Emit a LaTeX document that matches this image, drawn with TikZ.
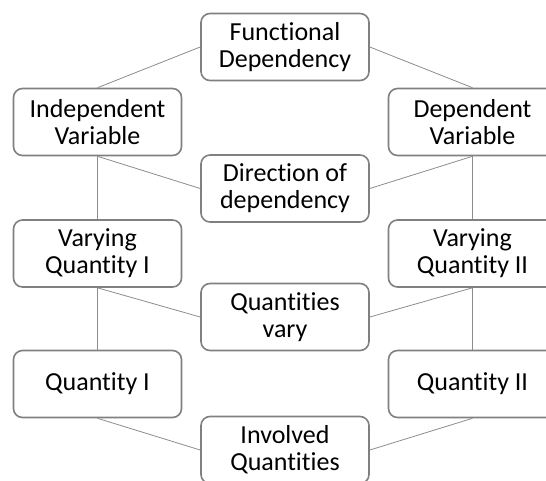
\documentclass[tikz,border=0pt]{standalone}
\usepackage{fontspec}
\setmainfont{Carlito}[Ligatures=NoCommon]
\begin{document}
\begin{tikzpicture}[x=1pt,y=-1pt,
  box/.style={draw=black!50, line width=1.6pt, rounded corners=9pt, fill=white,
    minimum width=168pt, minimum height=67pt, inner sep=0pt, align=center,
    font=\fontsize{26}{27}\selectfont},
  link/.style={draw=black!45, line width=0.8pt}]
\useasboundingbox (0,0) rectangle (546,480);
\begin{scope}
\clip (0,0) rectangle (546,480);
\node[box] (fd) at (285,47) {Functional\\Dependency};
\node[box] (iv) at (97.5,122) {Independent\\Variable};
\node[box] (dv) at (472.5,122) {Dependent\\Variable};
\node[box] (dd) at (285,188.5) {Direction of\\dependency};
\node[box] (v1) at (97.5,253.5) {Varying\\Quantity I};
\node[box] (v2) at (472.5,253.5) {Varying\\Quantity II};
\node[box] (qv) at (285,317) {Quantities\\vary};
\node[box] (q1) at (97.5,384) {Quantity I};
\node[box] (q2) at (472.5,384) {Quantity II};
\node[box] (iq) at (285,450) {Involved\\Quantities};
\draw[link] (fd.west) -- (iv.north);
\draw[link] (fd.east) -- (dv.north);
\draw[link] (iv.south) -- (dd.west);
\draw[link] (dv.south) -- (dd.east);
\draw[link] (iv.south) -- (v1.north);
\draw[link] (dv.south) -- (v2.north);
\draw[link] (v1.south) -- (qv.west);
\draw[link] (v2.south) -- (qv.east);
\draw[link] (v1.south) -- (q1.north);
\draw[link] (v2.south) -- (q2.north);
\draw[link] (q1.south) -- (iq.west);
\draw[link] (q2.south) -- (iq.east);
\end{scope}
\end{tikzpicture}
\end{document}
